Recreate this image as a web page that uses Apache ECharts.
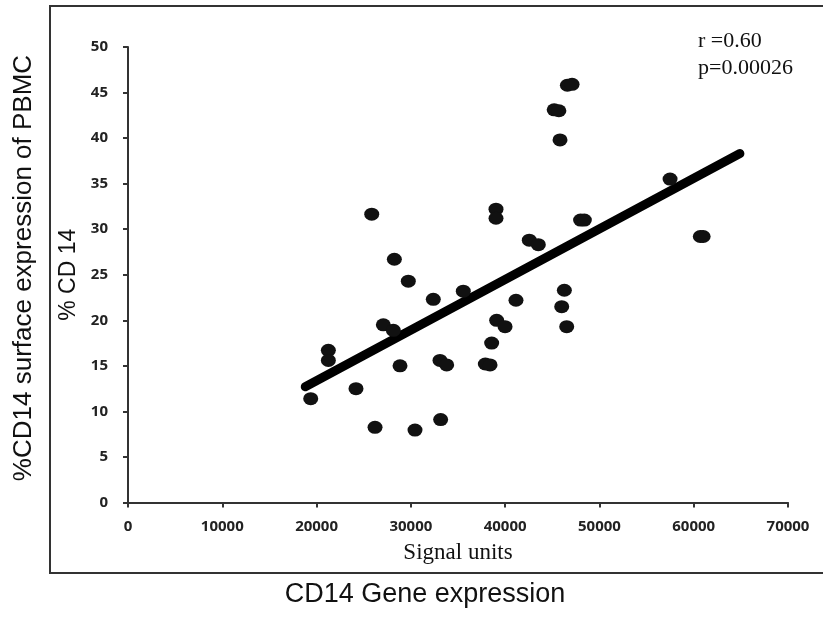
<!DOCTYPE html>
<html>
<head>
  <meta charset="UTF-8">
  <script src="https://cdn.jsdelivr.net/npm/echarts@6/dist/echarts.min.js"></script>
  <style>
    html, body { margin: 0; padding: 0; background: #fff; }
    #mychart { width: 823px; height: 618px; }
  </style>
</head>
<body>
  <div id="mychart"></div>
  <script type="text/javascript">
    // signal units (x) and % CD14 (y)
    var signalUnits = [
      46600, 47100, 45200, 45700, 45820, 25850, 39030, 39030, 48000, 48400,
      42560, 43520, 28250, 29730, 32380, 35560, 41150, 46280, 46000, 46530,
      27080, 28140, 39100, 39990, 38570, 21250, 21250, 28850, 24180, 19380,
      26200, 30440, 33090, 33800, 37900, 38400, 33160, 57490, 60700, 61000
    ];
    var cd14Percent = [
      45.8, 45.9, 43.1, 43.0, 39.8, 31.65, 32.2, 31.2, 31.0, 31.0,
      28.8, 28.3, 26.7, 24.3, 22.3, 23.2, 22.2, 23.3, 21.5, 19.3,
      19.5, 18.9, 20.0, 19.3, 17.5, 16.7, 15.6, 15.0, 12.5, 11.4,
      8.25, 7.95, 15.6, 15.1, 15.2, 15.1, 9.1, 35.5, 29.2, 29.2
    ];
    // regression line end points
    var fitX = [18800, 64900];
    var fitY = [12.7, 38.3];

    var xTicks = [0, 10000, 20000, 30000, 40000, 50000, 60000, 70000];
    var yTicks = [0, 5, 10, 15, 20, 25, 30, 35, 40, 45, 50];

    var points = signalUnits.map(function (x, i) { return [x, cd14Percent[i]]; });
    var fitLine = fitX.map(function (x, i) { return [x, fitY[i]]; });

    var tickFont = { fontFamily: 'Open Sans', fontWeight: 'bold', fontSize: 15, color: '#222' };

    var myChart = echarts.init(document.getElementById('mychart'));
    myChart.setOption({
      animation: false,
      backgroundColor: '#fff',
      grid: { left: 128, right: 35, top: 47, bottom: 115.5 },
      xAxis: {
        type: 'value',
        min: xTicks[0],
        max: xTicks[xTicks.length - 1],
        interval: 10000,
        name: 'Signal units',
        nameLocation: 'middle',
        nameGap: 39,
        nameTextStyle: { fontFamily: 'Liberation Serif', fontSize: 23, color: '#111' },
        splitLine: { show: false },
        axisLine: { lineStyle: { color: '#333', width: 2 } },
        axisTick: { length: 5, lineStyle: { color: '#333', width: 2 } },
        axisLabel: Object.assign({ margin: 17, formatter: function (v) { return String(v); } }, tickFont)
      },
      yAxis: {
        type: 'value',
        min: yTicks[0],
        max: yTicks[yTicks.length - 1],
        interval: 5,
        name: '% CD 14',
        nameLocation: 'middle',
        nameRotate: 90,
        nameGap: 40,
        nameTextStyle: { fontFamily: 'Liberation Sans', fontSize: 23, color: '#111' },
        splitLine: { show: false },
        axisLine: { lineStyle: { color: '#333', width: 2 } },
        axisTick: { length: 5, lineStyle: { color: '#333', width: 2 } },
        axisLabel: Object.assign({ margin: 20 }, tickFont)
      },
      series: [
        {
          name: 'fit',
          type: 'line',
          data: fitLine,
          symbol: 'none',
          lineStyle: { color: '#000', width: 9, cap: 'round' },
          z: 3
        },
        {
          name: 'samples',
          type: 'scatter',
          data: points,
          symbol: 'circle',
          symbolSize: [15, 13],
          itemStyle: { color: '#111', opacity: 1 },
          z: 4
        }
      ],
      graphic: [
        {
          type: 'rect',
          shape: { x: 50, y: 6, width: 800, height: 567 },
          style: { fill: 'none', stroke: '#333', lineWidth: 2 },
          silent: true
        },
        {
          type: 'text',
          left: 698, top: 28,
          style: {
            text: 'r =0.60\np=0.00026',
            fontFamily: 'Liberation Serif', fontSize: 22, lineHeight: 27, fill: '#111'
          }
        },
        {
          type: 'text',
          x: 425, y: 595,
          style: {
            text: 'CD14 Gene expression',
            fontFamily: 'Liberation Sans', fontSize: 27, fill: '#111',
            align: 'center', verticalAlign: 'middle'
          }
        },
        {
          type: 'text',
          x: 24, y: 268,
          rotation: Math.PI / 2,
          style: {
            text: '%CD14 surface expression of PBMC',
            fontFamily: 'Liberation Sans', fontSize: 26, fill: '#111',
            align: 'center', verticalAlign: 'middle'
          }
        }
      ]
    });
  </script>
</body>
</html>
